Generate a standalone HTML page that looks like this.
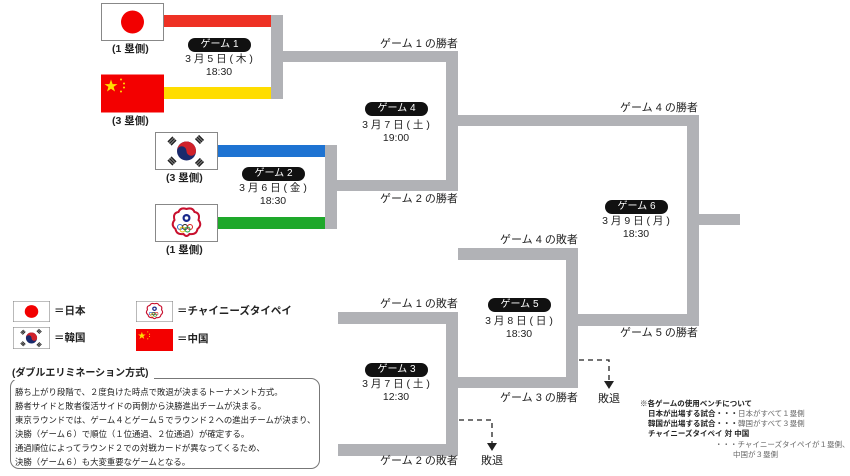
<!DOCTYPE html>
<html><head><meta charset="utf-8">
<style>
*{margin:0;padding:0;box-sizing:border-box}
body{width:850px;height:476px;background:#fff;position:relative;overflow:hidden;font-family:"Liberation Sans","Noto Sans CJK JP",sans-serif;color:#222}
.a{position:absolute}
.g{position:absolute;background:#b1b2b6}
.t{position:absolute;font-size:11px;white-space:nowrap;line-height:12px}
.pill{position:absolute;background:#111;color:#fff;border-radius:8px;font-size:10px;text-align:center;line-height:14px;height:14px;width:63px}
.c{position:absolute;font-size:10.5px;text-align:center;width:100px;line-height:13px}
.b{font-weight:bold;font-size:10.5px}
.box{position:absolute;left:10px;top:378px;width:310px;height:91px;border:1px solid #777;border-radius:9px}
.bt{position:absolute;font-size:8.4px;line-height:14px;left:15px;white-space:nowrap}
.n{position:absolute;font-size:7.5px;line-height:10px;white-space:nowrap}
</style></head><body>
<svg width="0" height="0" style="position:absolute">
<defs>
<symbol id="jp" viewBox="0 0 63 38"><rect x="0.5" y="0.5" width="62" height="37" fill="#fff" stroke="#888"/><circle cx="31.5" cy="19" r="11.5" fill="#f20000"/></symbol>
<symbol id="cn" viewBox="0 0 63 38"><rect width="63" height="38" fill="#f30000"/><polygon points="10,5 11.6,9.6 16.5,9.6 12.6,12.4 14,17 10,14.2 6,17 7.4,12.4 3.5,9.6 8.4,9.6" fill="#ffde00"/><circle cx="20" cy="5" r="1" fill="#ffde00"/><circle cx="23" cy="9" r="1" fill="#ffde00"/><circle cx="23" cy="13" r="1" fill="#ffde00"/><circle cx="20" cy="17" r="1" fill="#ffde00"/></symbol>
<symbol id="kr" viewBox="0 0 63 38"><rect x="0.5" y="0.5" width="62" height="37" fill="#fff" stroke="#888"/><circle cx="31.5" cy="19" r="9.5" fill="#1a2a6c"/><path d="M22,19 a9.5,9.5 0 0 1 19,0 a4.75,4.75 0 0 1 -9.5,0 a4.75,4.75 0 0 0 -9.5,0z" fill="#d0212a"/><g stroke="#222" stroke-width="1.6"><path d="M13,10 l5,-5 M14.5,11.5 l5,-5 M16,13 l5,-5"/><path d="M42,5 l5,5 M43.5,3.5 l5,5 M40.5,6.5 l5,5"/><path d="M13,28 l5,5 M14.5,26.5 l5,5 M16,25 l5,5"/><path d="M42,33 l5,-5 M43.5,34.5 l5,-5 M40.5,31.5 l5,-5"/></g></symbol>
<symbol id="tw" viewBox="0 0 63 38"><rect x="0.5" y="0.5" width="62" height="37" fill="#fff" stroke="#888"/><path d="M31.5,5 q6,-2 8,3 q6,1 4,8 q4,5 -1,9 q-1,6 -8,5 q-3,4 -6,0 q-7,1 -8,-5 q-5,-4 -1,-9 q-2,-7 4,-8 q2,-5 8,-3z" fill="#fff" stroke="#c8102e" stroke-width="2"/><circle cx="31.5" cy="14" r="4" fill="#1a2a8c"/><circle cx="31.5" cy="14" r="1.8" fill="#fff"/><g fill="none" stroke-width="1"><circle cx="25" cy="23" r="2.5" stroke="#2a6ac8"/><circle cx="30" cy="23" r="2.5" stroke="#222"/><circle cx="35" cy="23" r="2.5" stroke="#d22"/><circle cx="27.5" cy="25.5" r="2.5" stroke="#e8b800"/><circle cx="32.5" cy="25.5" r="2.5" stroke="#1a9a3a"/></g></symbol>
</defs></svg>

<svg class="a" style="left:101px;top:3px" width="63" height="38"><use href="#jp"/></svg>
<svg class="a" style="left:101px;top:74px" width="63" height="39"><use href="#cn"/></svg>
<svg class="a" style="left:155px;top:132px" width="63" height="38"><use href="#kr"/></svg>
<svg class="a" style="left:155px;top:204px" width="63" height="38"><use href="#tw"/></svg>
<div class="t b" style="left:112px;top:43px">(1 塁側)</div>
<div class="t b" style="left:112px;top:115px">(3 塁側)</div>
<div class="t b" style="left:166px;top:172px">(3 塁側)</div>
<div class="t b" style="left:166px;top:244px">(1 塁側)</div>

<div class="a" style="left:164px;top:15px;width:107px;height:12px;background:#ee3124"></div>
<div class="a" style="left:164px;top:87px;width:107px;height:12px;background:#ffdd00"></div>
<div class="a" style="left:218px;top:145px;width:107px;height:12px;background:#1e73d2"></div>
<div class="a" style="left:218px;top:217px;width:107px;height:12px;background:#1ea82a"></div>

<div class="g" style="left:271px;top:15px;width:12px;height:84px"></div>
<div class="g" style="left:283px;top:51px;width:175px;height:11px"></div>
<div class="g" style="left:325px;top:145px;width:12px;height:84px"></div>
<div class="g" style="left:337px;top:180px;width:121px;height:11px"></div>
<div class="g" style="left:446px;top:51px;width:12px;height:140px"></div>
<div class="g" style="left:458px;top:115px;width:241px;height:11px"></div>
<div class="g" style="left:687px;top:115px;width:12px;height:211px"></div>
<div class="g" style="left:699px;top:214px;width:41px;height:11px"></div>
<div class="g" style="left:458px;top:248px;width:120px;height:12px"></div>
<div class="g" style="left:566px;top:248px;width:12px;height:140px"></div>
<div class="g" style="left:578px;top:314px;width:121px;height:12px"></div>
<div class="g" style="left:338px;top:312px;width:120px;height:12px"></div>
<div class="g" style="left:446px;top:312px;width:12px;height:144px"></div>
<div class="g" style="left:338px;top:444px;width:120px;height:12px"></div>
<div class="g" style="left:458px;top:377px;width:120px;height:11px"></div>

<div class="t" style="left:380px;top:38px">ゲーム 1 の勝者</div>
<div class="t" style="left:380px;top:193px">ゲーム 2 の勝者</div>
<div class="t" style="left:620px;top:102px">ゲーム 4 の勝者</div>
<div class="t" style="left:500px;top:234px">ゲーム 4 の敗者</div>
<div class="t" style="left:620px;top:327px">ゲーム 5 の勝者</div>
<div class="t" style="left:380px;top:298px">ゲーム 1 の敗者</div>
<div class="t" style="left:500px;top:392px">ゲーム 3 の勝者</div>
<div class="t" style="left:380px;top:455px">ゲーム 2 の敗者</div>

<div class="pill" style="left:188px;top:38px">ゲーム 1</div>
<div class="c" style="left:169px;top:53px">3 月 5 日 ( 木 )<br>18:30</div>
<div class="pill" style="left:242px;top:167px">ゲーム 2</div>
<div class="c" style="left:223px;top:182px">3 月 6 日 ( 金 )<br>18:30</div>
<div class="pill" style="left:365px;top:102px">ゲーム 4</div>
<div class="c" style="left:346px;top:119px">3 月 7 日 ( 土 )<br>19:00</div>
<div class="pill" style="left:605px;top:200px">ゲーム 6</div>
<div class="c" style="left:586px;top:215px">3 月 9 日 ( 月 )<br>18:30</div>
<div class="pill" style="left:488px;top:298px">ゲーム 5</div>
<div class="c" style="left:469px;top:315px">3 月 8 日 ( 日 )<br>18:30</div>
<div class="pill" style="left:365px;top:363px">ゲーム 3</div>
<div class="c" style="left:346px;top:378px">3 月 7 日 ( 土 )<br>12:30</div>

<svg class="a" style="left:0;top:0" width="850" height="476">
<path d="M579,360 H609 V382" fill="none" stroke="#222" stroke-width="1.3" stroke-dasharray="5,4"/>
<polygon points="604,381 614,381 609,389" fill="#222"/>
<path d="M459,420 H492 V444" fill="none" stroke="#222" stroke-width="1.3" stroke-dasharray="5,4"/>
<polygon points="487,443 497,443 492,451" fill="#222"/>
</svg>
<div class="t" style="left:598px;top:393px">敗退</div>
<div class="t" style="left:481px;top:455px">敗退</div>

<svg class="a" style="left:13px;top:301px" width="37" height="21" viewBox="0 0 63 38" preserveAspectRatio="none"><use href="#jp"/></svg>
<div class="t b" style="left:54px;top:305px">＝日本</div>
<svg class="a" style="left:13px;top:327px" width="37" height="22" viewBox="0 0 63 38" preserveAspectRatio="none"><use href="#kr"/></svg>
<div class="t b" style="left:54px;top:332px">＝韓国</div>
<svg class="a" style="left:136px;top:301px" width="37" height="21" viewBox="0 0 63 38" preserveAspectRatio="none"><use href="#tw"/></svg>
<div class="t b" style="left:177px;top:305px">＝チャイニーズタイペイ</div>
<svg class="a" style="left:136px;top:329px" width="37" height="22" viewBox="0 0 63 38" preserveAspectRatio="none"><use href="#cn"/></svg>
<div class="t b" style="left:177px;top:333px">＝中国</div>

<div class="box"></div>
<div class="t b" style="left:12px;top:368px;background:#fff;padding-right:6px;font-size:10px">(ダブルエリミネーション方式)</div>
<div class="bt" style="top:385px">勝ち上がり段階で、２度負けた時点で敗退が決まるトーナメント方式。<br>勝者サイドと敗者復活サイドの両側から決勝進出チームが決まる。<br>東京ラウンドでは、ゲーム４とゲーム５でラウンド２への進出チームが決まり、<br>決勝（ゲーム６）で順位（１位通過、２位通過）が確定する。<br>通過順位によってラウンド２での対戦カードが異なってくるため、<br>決勝（ゲーム６）も大変重要なゲームとなる。</div>

<div class="n" style="left:640px;top:399px;font-weight:bold">※各ゲームの使用ベンチについて</div>
<div class="n" style="left:648px;top:409px"><b>日本が出場する試合・・・</b><span style="color:#666">日本がすべて１塁側</span></div>
<div class="n" style="left:648px;top:419px"><b>韓国が出場する試合・・・</b><span style="color:#666">韓国がすべて３塁側</span></div>
<div class="n" style="left:648px;top:429px;font-weight:bold">チャイニーズタイペイ 対 中国</div>
<div class="n" style="left:715px;top:440px;color:#666">・・・チャイニーズタイペイが１塁側、</div>
<div class="n" style="left:733px;top:450px;color:#666">中国が３塁側</div>
</body></html>
